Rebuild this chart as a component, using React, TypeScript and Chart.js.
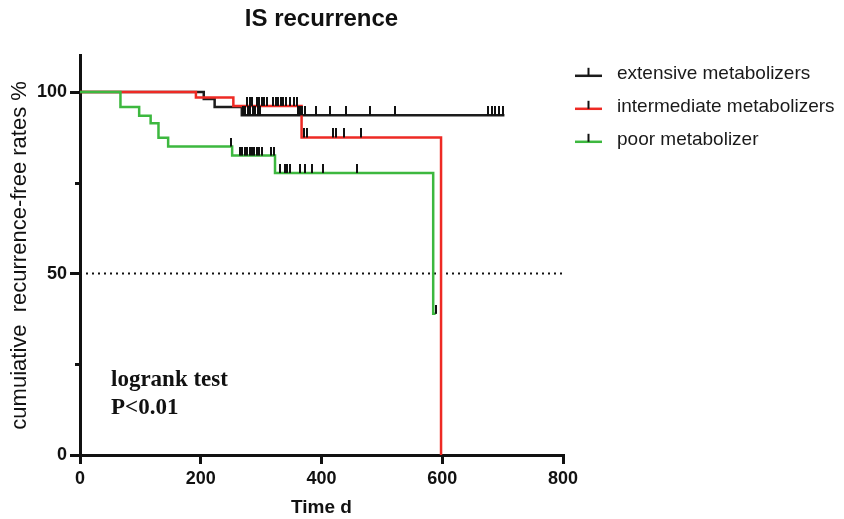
import React, { useEffect, useRef } from "react";
import { Chart, registerables } from "chart.js";

Chart.register(...registerables);

// ---------- text ----------
const TITLE = "IS recurrence";
const X_TITLE = "Time d";
const Y_TITLE = "cumuiative  recurrence-free rates %";
const ANNOTATION_LINES = ["logrank test", "P<0.01"];

// ---------- axes ----------
const X_TICKS = [0, 200, 400, 600, 800];
const Y_TICKS = [0, 50, 100];
const Y_MINOR_TICKS = [25, 75];
const X_MIN = 0;
const X_MAX = 800;
const Y_MIN = 0;
const Y_MAX = 110;

// ---------- groups ----------
const groupLabels = ["extensive metabolizers", "intermediate metabolizers", "poor metabolizer"];
const groupColors = ["#1c1c1c", "#ee2a24", "#3db83f"];

// extensive metabolizers (Kaplan-Meier step points: time, survival %)
const extensiveTimes = [0, 205, 223, 268, 703];
const extensiveSurvival = [100, 98.1, 95.9, 93.6, 93.6];
const extensiveCensored = [270, 274, 278, 282, 286, 290, 294, 298, 361, 364, 368, 372, 391, 414, 441, 481, 521, 676, 682, 688, 694, 700];

// intermediate metabolizers
const intermediateTimes = [0, 192, 254, 367, 598];
const intermediateSurvival = [100, 98.5, 96.2, 87.5, 0];
const intermediateCensored = [277, 281, 285, 293, 297, 301, 305, 309, 320, 324, 328, 333, 337, 341, 348, 354, 360, 371, 376, 419, 424, 438, 465];

// poor metabolizer
const poorTimes = [0, 67, 98, 117, 130, 146, 252, 323, 585, 589];
const poorSurvival = [100, 95.9, 93.5, 91.4, 87.4, 85.0, 82.5, 77.7, 38.9, 38.9];
const poorCensored = [250, 265, 269, 273, 277, 281, 285, 289, 293, 297, 301, 316, 321, 331, 339, 343, 347, 364, 372, 384, 403, 458, 589];

// reference line (median)
const medianLineX = [0, 800];
const medianLineY = [50, 50];

const groupTimes = [extensiveTimes, intermediateTimes, poorTimes];
const groupSurvival = [extensiveSurvival, intermediateSurvival, poorSurvival];
const groupCensored = [extensiveCensored, intermediateCensored, poorCensored];

function survivalAt(times: number[], surv: number[], t: number): number {
  let v = surv[0];
  for (let i = 0; i < times.length; i++) {
    if (times[i] <= t) v = surv[i];
  }
  return v;
}

function makeCensorMark(): HTMLCanvasElement {
  const c = document.createElement("canvas");
  c.width = 2;
  c.height = 18;
  const g = c.getContext("2d")!;
  g.fillStyle = "#111111";
  g.fillRect(0, 0, 2, 9);
  return c;
}

const kmDecor = {
  id: "kmDecor",
  afterDraw(chart: any) {
    const { ctx, chartArea, scales } = chart;
    const yS = scales.y;
    ctx.save();
    // minor y ticks
    ctx.strokeStyle = "#111111";
    ctx.lineWidth = 3;
    Y_MINOR_TICKS.forEach((v) => {
      const py = Math.round(yS.getPixelForValue(v)) + 0.5;
      ctx.beginPath();
      ctx.moveTo(chartArea.left - 5, py);
      ctx.lineTo(chartArea.left, py);
      ctx.stroke();
    });

    // legend
    const lx = chartArea.right + 12;
    const rowTop = chartArea.top + 17;
    const rowGap = 33;
    ctx.font = "19px 'Liberation Sans', Arial, sans-serif";
    ctx.textBaseline = "middle";
    ctx.textAlign = "left";
    groupLabels.forEach((label, i) => {
      const cy = rowTop + i * rowGap;
      ctx.strokeStyle = groupColors[i];
      ctx.lineWidth = 2.5;
      ctx.beginPath();
      ctx.moveTo(lx, cy + 3);
      ctx.lineTo(lx + 27, cy + 3);
      ctx.stroke();
      ctx.strokeStyle = "#111111";
      ctx.lineWidth = 2;
      ctx.beginPath();
      ctx.moveTo(lx + 13.5, cy + 3);
      ctx.lineTo(lx + 13.5, cy - 5);
      ctx.stroke();
      ctx.fillStyle = "#1a1a1a";
      ctx.fillText(label, lx + 42, cy + 1);
    });

    // annotation
    ctx.font = "bold 23px 'Liberation Serif', 'Times New Roman', serif";
    ctx.fillStyle = "#111111";
    ctx.textBaseline = "alphabetic";
    ANNOTATION_LINES.forEach((line, i) => {
      ctx.fillText(line, chartArea.left + 31, chartArea.bottom - 69 + i * 28);
    });
    ctx.restore();
  },
};

export default function App() {
  const canvasRef = useRef<HTMLCanvasElement | null>(null);

  useEffect(() => {
    const canvas = canvasRef.current;
    if (!canvas) return;
    const mark = makeCensorMark();

    const curveSets: any[] = groupLabels.map((label, i) => ({
      type: "line",
      label,
      data: groupTimes[i].map((t, k) => ({ x: t, y: groupSurvival[i][k] })),
      borderColor: groupColors[i],
      backgroundColor: groupColors[i],
      borderWidth: 2.5,
      stepped: "before",
      pointRadius: 0,
      fill: false,
      order: 2 + (2 - i),
      clip: false,
    }));

    const censorSets: any[] = groupLabels.map((label, i) => ({
      type: "line",
      label: label + " (censored)",
      data: groupCensored[i].map((t) => ({ x: t, y: survivalAt(groupTimes[i], groupSurvival[i], t) })),
      showLine: false,
      pointStyle: mark,
      pointRadius: 4,
      borderColor: "#111111",
      backgroundColor: "#111111",
      order: 0,
      clip: false,
    }));

    const medianSet: any = {
      type: "line",
      label: "median",
      data: medianLineX.map((x, k) => ({ x, y: medianLineY[k] })),
      borderColor: "#111111",
      borderWidth: 2,
      borderDash: [2, 4],
      pointRadius: 0,
      fill: false,
      order: 10,
    };

    const chart = new Chart(canvas, {
      type: "line",
      data: { datasets: [...curveSets, ...censorSets, medianSet] },
      plugins: [kmDecor],
      options: {
        animation: false,
        responsive: false,
        devicePixelRatio: 1,
        parsing: true,
        layout: { padding: { left: 0, right: 281, top: 0, bottom: 0 } },
        plugins: {
          legend: { display: false },
          tooltip: { enabled: false },
          title: {
            display: true,
            text: TITLE,
            fullSize: false,
            color: "#111111",
            font: { family: "'Liberation Sans', Arial, sans-serif", size: 24, weight: "bold" },
            padding: { top: 5, bottom: 22 },
          },
        },
        scales: {
          x: {
            type: "linear",
            min: X_MIN,
            max: X_MAX,
            afterBuildTicks: (s: any) => {
              s.ticks = X_TICKS.map((v) => ({ value: v }));
            },
            afterFit: (s: any) => {
              s.height = 64;
            },
            grid: { display: true, drawOnChartArea: false, drawTicks: true, tickLength: 9, lineWidth: 3, color: "#111111" },
            border: { display: true, color: "#111111", width: 3 },
            ticks: {
              color: "#111111",
              padding: 4,
              maxRotation: 0,
              font: { family: "'Liberation Sans', Arial, sans-serif", size: 18, weight: "bold" },
            },
            title: {
              display: true,
              text: X_TITLE,
              color: "#111111",
              font: { family: "'Liberation Sans', Arial, sans-serif", size: 19, weight: "bold" },
              padding: { top: 0, bottom: 0 },
            },
          },
          y: {
            type: "linear",
            min: Y_MIN,
            max: Y_MAX,
            afterBuildTicks: (s: any) => {
              s.ticks = Y_TICKS.map((v) => ({ value: v }));
            },
            afterFit: (s: any) => {
              s.width = 80;
            },
            grid: { display: true, drawOnChartArea: false, drawTicks: true, tickLength: 10, lineWidth: 3, color: "#111111" },
            border: { display: true, color: "#111111", width: 3 },
            ticks: {
              color: "#111111",
              padding: 3,
              font: { family: "'Liberation Sans', Arial, sans-serif", size: 18, weight: "bold" },
            },
            title: {
              display: true,
              text: Y_TITLE,
              color: "#111111",
              font: { family: "'Liberation Sans', Arial, sans-serif", size: 22 },
              padding: { top: 7, bottom: 0 },
            },
          },
        },
      },
    });

    return () => chart.destroy();
  }, []);

  return (
    <div style={{ position: "absolute", left: 0, top: 0, width: 844, height: 519, background: "#fff" }}>
      <canvas ref={canvasRef} width={844} height={519} style={{ display: "block", width: 844, height: 519 }} />
    </div>
  );
}
